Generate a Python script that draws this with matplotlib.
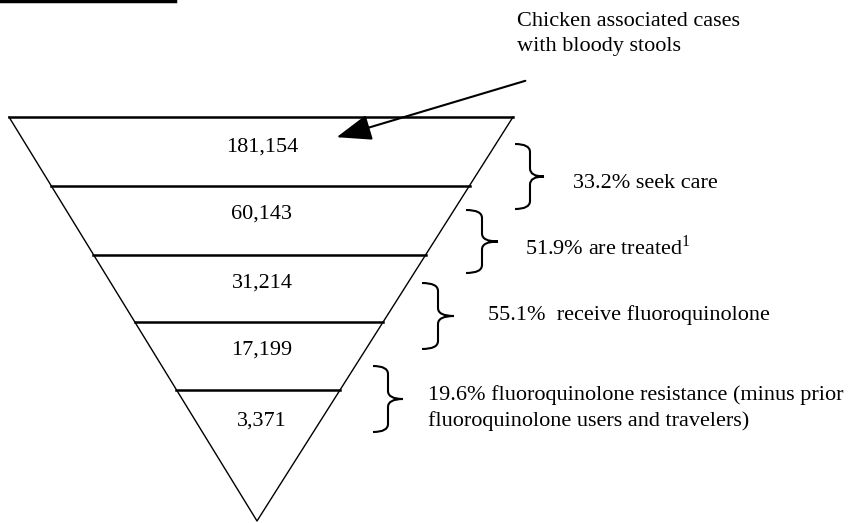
import matplotlib.pyplot as plt
from matplotlib.path import Path
from matplotlib.patches import PathPatch, FancyArrowPatch

# funnel stages, top to bottom
counts = ['181,154', '60,143', '31,214', '17,199', '3,371']
steps = ['33.2% seek care',
         '51.9% are treated$^{\\mathregular{1}}$',
         '55.1%  receive fluoroquinolone',
         '19.6% fluoroquinolone resistance (minus prior\nfluoroquinolone users and travelers)']
callout = 'Chicken associated cases\nwith bloody stools'

plt.rcParams['font.family'] = ['Liberation Serif', 'DejaVu Serif']

fig = plt.figure(figsize=(8.6, 5.23), dpi=100)
ax = fig.add_axes([0, 0, 1, 1])
ax.set_xlim(0, 860)
ax.set_ylim(523, 0)
ax.axis('off')

# triangle geometry in pixel coordinates
top_y, apex_y = 117, 521
left_x, right_x, apex_x = 9, 513, 257
line_ys = [117, 185.5, 254.5, 321.5, 389.5]


def edge_x(y, side):
    t = (y - top_y) / (apex_y - top_y)
    x0 = left_x if side == 'l' else right_x
    return x0 + (apex_x - x0) * t


ax.plot([left_x, apex_x, right_x], [top_y, apex_y, top_y], color='black', lw=1.0)
for y in line_ys:
    ax.plot([edge_x(y, 'l'), edge_x(y, 'r')], [y, y], color='black', lw=1.8)

num_ys = [147, 214, 283, 350, 421]
for lab, y in zip(counts, num_ys):
    ax.text(262, y, lab, ha='center', va='center', fontsize=16)


def brace(x0, xv, xt, y0, y1):
    ym = (y0 + y1) / 2
    r = 8
    verts = [(x0, y0), (xv, y0), (xv, y0 + r),
             (xv, ym - r), (xv, ym), (xt, ym),
             (xv, ym), (xv, ym + r),
             (xv, y1 - r), (xv, y1), (x0, y1)]
    codes = [Path.MOVETO, Path.CURVE3, Path.CURVE3,
             Path.LINETO, Path.CURVE3, Path.CURVE3,
             Path.CURVE3, Path.CURVE3,
             Path.LINETO, Path.CURVE3, Path.CURVE3]
    ax.add_patch(PathPatch(Path(verts, codes), fill=False, lw=1.5, color='black'))


braces = [(515, 530, 544, 144, 209),
          (466, 482, 498, 210, 273),
          (422, 438, 454, 283, 349),
          (373, 388, 403, 366, 432)]
text_pos = [(573, 183), (525, 248), (488, 315), (428, 408)]
for b, (tx, ty), s in zip(braces, text_pos, steps):
    brace(*b)
    ax.text(tx, ty, s, ha='left', va='center', fontsize=16, linespacing=1.45)

ax.text(517, 34, callout, ha='left', va='center', fontsize=16, linespacing=1.45)
ax.add_patch(FancyArrowPatch((528, 80), (334, 138),
                             arrowstyle='-|>,head_length=1.2,head_width=0.45',
                             mutation_scale=18, color='black', lw=1.5))

# clipped underline from the page above
ax.plot([0, 175], [1, 1], color='black', lw=2.5)

fig.savefig('out.png', dpi=100)
